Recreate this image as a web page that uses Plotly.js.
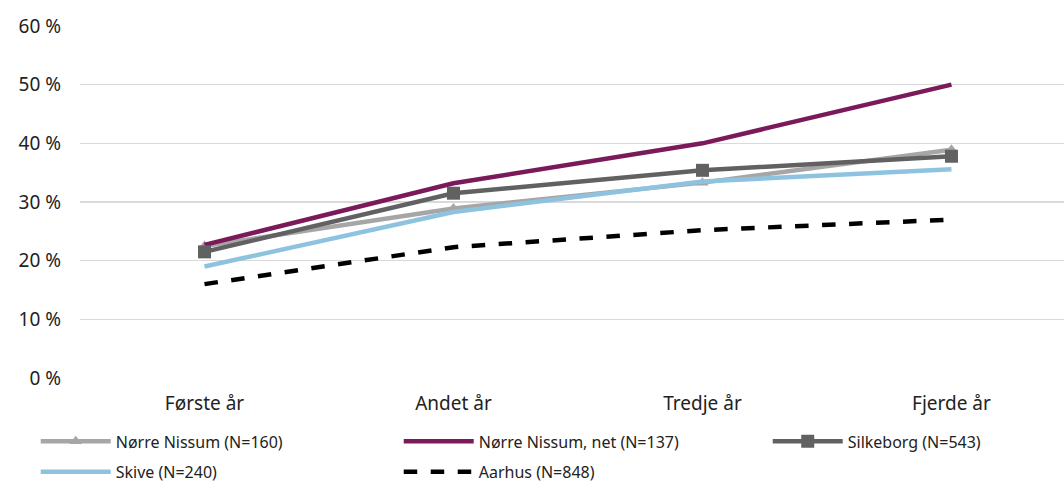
<!DOCTYPE html>
<html>
<head>
<meta charset="utf-8">
<script src="https://cdn.plot.ly/plotly-3.0.1.min.js"></script>
<style>html,body{margin:0;padding:0;overflow:hidden;background:#fff}#chart{width:1064px;height:482px}</style>
</head>
<body>
<div id="chart"></div>
<script>
const categories = ["Første år", "Andet år", "Tredje år", "Fjerde år"];
const nNissum = [22.5, 28.9, 33.3, 38.9];
const nNissumNet = [22.7, 33.2, 40.0, 50.0];
const silkeborg = [21.5, 31.5, 35.4, 37.8];
const skive = [19.0, 28.3, 33.5, 35.6];
const aarhus = [16.0, 22.3, 25.2, 27.0];
const seriesNames = ["Nørre Nissum (N=160)", "Nørre Nissum, net (N=137)", "Silkeborg (N=543)", "Skive (N=240)", "Aarhus (N=848)"];
const yTicks = [0, 10, 20, 30, 40, 50, 60];

const traces = [
  {x: categories, y: nNissum, name: seriesNames[0], mode: "lines+markers", legend: "legend",
   line: {color: "#a6a6a6", width: 4.5}, marker: {symbol: "triangle-up", size: 11, color: "#a6a6a6"}},
  {x: categories, y: nNissumNet, name: seriesNames[1], mode: "lines", legend: "legend2",
   line: {color: "#7b1a5a", width: 4.5}},
  {x: categories, y: silkeborg, name: seriesNames[2], mode: "lines+markers", legend: "legend3",
   line: {color: "#616161", width: 4.5}, marker: {symbol: "square", size: 13, color: "#616161"}},
  {x: categories, y: skive, name: seriesNames[3], mode: "lines", legend: "legend4",
   line: {color: "#8ec3e0", width: 4.5}},
  {x: categories, y: aarhus, name: seriesNames[4], mode: "lines", legend: "legend5",
   line: {color: "#000000", width: 4.5, dash: "dash"}}
];

function leg(x, y) {
  return {orientation: "h", x: x, y: y, xanchor: "left", yanchor: "top",
    font: {size: 16, color: "#222222"}, itemwidth: 70, bgcolor: "rgba(0,0,0,0)"};
}

const layout = {
  width: 1064, height: 482,
  margin: {l: 80, r: 0, t: 26, b: 104, autoexpand: false},
  paper_bgcolor: "#ffffff", plot_bgcolor: "#ffffff",
  font: {family: "Noto Sans, Open Sans, sans-serif", color: "#222222", size: 19},
  showlegend: true,
  xaxis: {type: "category", range: [-0.5, 3.452], showgrid: false, zeroline: false,
          showline: false, ticks: "", tickfont: {size: 19}, ticklabelstandoff: 12, fixedrange: true},
  yaxis: {range: [0, 60], tickvals: yTicks, ticktext: yTicks.map(v => v + " %"),
          showgrid: true, gridcolor: "#d9d9d9", gridwidth: 1.5, zeroline: false, showline: false,
          ticks: "", tickfont: {size: 19}, ticklabelstandoff: 18, fixedrange: true},
  legend: leg(-0.045, -0.132),
  legend2: leg(0.3239, -0.132),
  legend3: leg(0.6989, -0.132),
  legend4: leg(-0.045, -0.218),
  legend5: leg(0.3239, -0.218)
};

Plotly.newPlot("chart", traces, layout, {displayModeBar: false, staticPlot: true});
</script>
</body>
</html>
